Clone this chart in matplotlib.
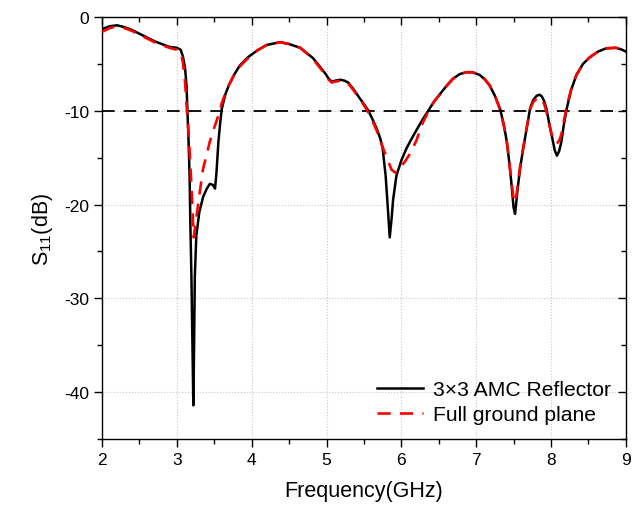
import numpy as np
import matplotlib
matplotlib.use("Agg")
import matplotlib.pyplot as plt
from matplotlib.ticker import MultipleLocator

plt.rcParams.update({
    "font.family": ["Liberation Sans", "DejaVu Sans"],
    "mathtext.fontset": "custom",
    "mathtext.rm": "Liberation Sans",
    "mathtext.it": "Liberation Sans",
    "axes.unicode_minus": False,
    "font.size": 12,
})

# 3x3 AMC reflector
freq_amc = [2.00, 2.10, 2.20, 2.30, 2.40, 2.50, 2.60, 2.70, 2.80, 2.90, 3.00, 3.05,
            3.08, 3.11, 3.13, 3.14, 3.155, 3.17, 3.18, 3.195, 3.21, 3.22, 3.23, 3.24,
            3.26, 3.30, 3.35, 3.40, 3.44, 3.48, 3.51, 3.53, 3.555, 3.58, 3.60, 3.65,
            3.70, 3.77, 3.84, 3.95, 4.07, 4.20, 4.38, 4.50, 4.65, 4.82, 4.92, 4.98,
            5.03, 5.07, 5.12, 5.18, 5.24, 5.29, 5.36, 5.42, 5.50, 5.56, 5.62, 5.67,
            5.72, 5.75, 5.79, 5.82, 5.845, 5.87, 5.89, 5.935, 6.00, 6.07, 6.13, 6.20,
            6.28, 6.36, 6.44, 6.52, 6.60, 6.69, 6.78, 6.87, 6.95, 7.05, 7.12, 7.18,
            7.25, 7.32, 7.37, 7.41, 7.44, 7.47, 7.50, 7.52, 7.54, 7.555, 7.59, 7.63,
            7.68, 7.72, 7.76, 7.81, 7.85, 7.88, 7.91, 7.94, 7.98, 8.02, 8.05, 8.08,
            8.11, 8.14, 8.17, 8.21, 8.27, 8.34, 8.43, 8.52, 8.63, 8.74, 8.87, 8.95, 9.00]
s11_amc = [-1.3, -1.0, -0.9, -1.1, -1.4, -1.8, -2.2, -2.6, -2.9, -3.2, -3.3, -3.5,
           -4.2, -5.5, -7.5, -9.8, -13.0, -17.0, -22.0, -28.0, -36.0, -41.4, -35.0, -27.6,
           -23.3, -20.8, -19.2, -18.3, -17.8, -17.9, -18.3, -16.5, -13.3, -11.2, -9.8, -8.2,
           -7.2, -6.1, -5.2, -4.3, -3.6, -3.0, -2.7, -2.9, -3.3, -4.4, -5.4, -6.0,
           -6.6, -6.9, -6.8, -6.7, -6.8, -7.0, -7.7, -8.4, -9.3, -10.0, -11.0, -11.9,
           -13.0, -14.0, -16.9, -20.4, -23.5, -21.5, -19.5, -16.9, -15.3, -14.0, -13.1, -12.1,
           -11.0, -10.0, -9.0, -8.2, -7.4, -6.6, -6.1, -5.9, -5.9, -6.2, -6.7, -7.3,
           -8.4, -9.8, -11.5, -13.3, -15.3, -17.6, -20.3, -21.0, -19.5, -18.3, -16.0, -14.0,
           -11.7, -9.8, -8.9, -8.4, -8.3, -8.5, -9.0, -9.8, -11.5, -13.0, -14.2, -14.8,
           -14.3, -13.3, -11.6, -9.8, -7.8, -6.2, -5.0, -4.3, -3.7, -3.35, -3.3, -3.5, -3.7]

# full ground plane
freq_fgp = [2.00, 2.10, 2.20, 2.30, 2.40, 2.50, 2.60, 2.70, 2.80, 2.90, 3.00, 3.05,
            3.08, 3.11, 3.13, 3.15, 3.175, 3.20, 3.225, 3.25, 3.30, 3.35, 3.40, 3.44,
            3.50, 3.555, 3.60, 3.65, 3.70, 3.77, 3.84, 3.95, 4.07, 4.20, 4.38, 4.50,
            4.65, 4.82, 4.92, 4.98, 5.03, 5.07, 5.12, 5.18, 5.24, 5.29, 5.36, 5.42,
            5.50, 5.56, 5.62, 5.67, 5.72, 5.77, 5.82, 5.87, 5.92, 5.97, 6.05, 6.13,
            6.20, 6.28, 6.36, 6.44, 6.52, 6.60, 6.69, 6.78, 6.87, 6.95, 7.05, 7.12,
            7.18, 7.25, 7.32, 7.37, 7.41, 7.44, 7.47, 7.50, 7.52, 7.54, 7.555, 7.59,
            7.63, 7.68, 7.72, 7.76, 7.81, 7.85, 7.88, 7.91, 7.94, 7.98, 8.02, 8.05,
            8.08, 8.11, 8.14, 8.17, 8.21, 8.27, 8.34, 8.43, 8.52, 8.63, 8.74, 8.87,
            8.95, 9.00]
s11_fgp = [-1.6, -1.2, -1.0, -1.2, -1.5, -1.9, -2.3, -2.7, -3.0, -3.3, -3.5, -3.8,
           -4.8, -7.0, -9.5, -11.6, -15.0, -19.0, -23.5, -22.0, -19.0, -16.2, -14.6, -13.3,
           -11.8, -10.5, -9.2, -8.1, -7.2, -6.1, -5.3, -4.4, -3.6, -3.0, -2.7, -2.9,
           -3.3, -4.5, -5.5, -6.1, -6.7, -7.0, -6.9, -6.8, -6.9, -7.1, -7.8, -8.5,
           -9.4, -10.2, -11.2, -12.1, -13.2, -14.3, -15.3, -16.3, -16.6, -16.2, -15.4, -14.4,
           -13.2, -11.4, -10.1, -9.0, -8.2, -7.4, -6.6, -6.1, -5.9, -5.9, -6.2, -6.7,
           -7.3, -8.4, -9.9, -11.6, -13.3, -15.2, -17.4, -19.4, -19.8, -18.9, -18.0, -15.8,
           -13.9, -11.6, -9.9, -9.1, -8.7, -8.6, -8.8, -9.3, -10.1, -11.6, -12.8, -13.4,
           -13.5, -13.2, -12.5, -11.2, -9.6, -7.7, -6.2, -5.0, -4.3, -3.7, -3.35, -3.3,
           -3.5, -3.7]

threshold = -10

fig = plt.figure(figsize=(6.34, 5.1), dpi=100)
ax = fig.add_axes([0.161, 0.137, 0.826, 0.828])

ax.grid(True, which="major", color="#c8c8c8", linestyle=":", linewidth=0.8)
ax.set_axisbelow(True)
ax.axhline(threshold, color="black", linestyle=(0, (7, 5)), linewidth=1.3)

ax.plot(freq_amc, s11_amc, color="black", lw=1.8, label="3\u00d73 AMC Reflector", zorder=3)
ax.plot(freq_fgp, s11_fgp, color="red", lw=1.9, linestyle=(0, (5, 3.5)),
        label="Full ground plane", zorder=4)

ax.set_xlim(2, 9)
ax.set_ylim(-45, 0)
ax.xaxis.set_major_locator(MultipleLocator(1))
ax.xaxis.set_minor_locator(MultipleLocator(0.5))
ax.yaxis.set_major_locator(MultipleLocator(10))
ax.yaxis.set_minor_locator(MultipleLocator(5))
ax.tick_params(which="both", direction="out", top=True, right=True, labelsize=12.5)
ax.tick_params(which="major", length=6, width=1)
ax.tick_params(which="minor", length=3.5, width=1)
for t in ax.xaxis.get_ticklines(minor=False)[1::2] + ax.xaxis.get_ticklines(minor=True)[1::2]:
    t.set_marker(3)  # top ticks pointing in
for t in ax.yaxis.get_ticklines(minor=False)[1::2] + ax.yaxis.get_ticklines(minor=True)[1::2]:
    t.set_marker(0)  # right ticks pointing in
for sp in ax.spines.values():
    sp.set_linewidth(1.0)

ax.set_xlabel("Frequency(GHz)", fontsize=15.5, labelpad=9)
ax.set_ylabel(r"S$_{11}$(dB)", fontsize=15.5, labelpad=6)

ax.legend(loc="lower right", frameon=False, fontsize=15.2, handlelength=2.2,
          borderaxespad=0.3, labelspacing=0.3, handletextpad=0.45)

fig.savefig("out.png", dpi=100)
